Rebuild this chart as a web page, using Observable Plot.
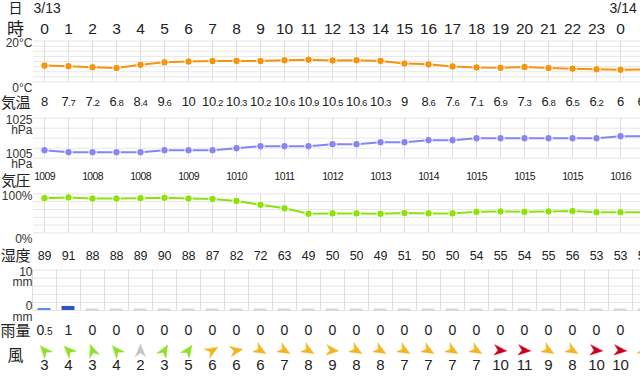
<!DOCTYPE html>
<html><head><meta charset="utf-8">
<script src="https://cdn.jsdelivr.net/npm/d3@7"></script>
<script src="https://cdn.jsdelivr.net/npm/@observablehq/plot@0.6"></script>
<style>
html,body{margin:0;padding:0;background:#fff;}
#chart{position:relative;width:640px;height:376px;overflow:hidden;background:#fff;}
#chart svg{position:absolute;left:0;}
</style></head><body><div id="chart"></div>
<script>
// ---- data ----
const hours = [0,1,2,3,4,5,6,7,8,9,10,11,12,13,14,15,16,17,18,19,20,21,22,23,0,1];
const dateLabels = ["3/13","3/14"];
const dateColumns = [0,24];
const rowLabels = ["日","時","気温","気圧","湿度","雨量","風"];
const temperature = [8,7.7,7.2,6.8,8.4,9.6,10,10.2,10.3,10.2,10.6,10.9,10.5,10.6,10.3,9,8.6,7.6,7.1,6.9,7.3,6.8,6.5,6.2,6,6.1];
const pressure = [1009,1008,1008,1008,1008,1009,1009,1009,1010,1011,1011,1011,1012,1012,1013,1013,1014,1014,1015,1015,1015,1015,1015,1015,1016,1016];
const pressureLabels = [1009,1008,1008,1009,1010,1011,1012,1013,1014,1015,1015,1015,1016];
const pressureLabelColumns = [0,2,4,6,8,10,12,14,16,18,20,22,24];
const humidity = [89,91,88,88,89,90,88,87,82,72,63,49,50,50,49,51,50,50,54,55,54,55,56,53,53,53];
const rainfall = [0.5,1,0,0,0,0,0,0,0,0,0,0,0,0,0,0,0,0,0,0,0,0,0,0,0,0];
const windSpeed = [3,4,3,4,2,3,5,6,6,6,7,8,9,8,8,7,7,7,7,10,11,9,8,10,10,9];
const windDirection = [320,315,340,320,0,30,35,60,80,120,120,120,95,120,120,120,120,120,120,95,95,120,120,95,95,110];
const tempGrid = [0,2.5,5,7.5,10,12.5,15,17.5,20];
const pressureGrid = [1005,1010,1015,1020,1025];
const humidityGrid = [0,20,40,60,80,100];
const rainGrid = [0,2,4,6,8,10];

// ---- style ----
const ORANGE = "#f5950f", PURPLE = "#8585f7", LIME = "#8ce30c";
const GRID = "#e6e6e6", VGRID = "#dedede", TXT = "#222";
const FONT = "'Liberation Sans', Arial, sans-serif";
const JP = "'Noto Sans CJK JP', sans-serif";
const windColor = s => s <= 2 ? "#c4c4c4" : s <= 5 ? "#8ee02a" : s <= 9 ? "#f5b41c" : "#c8001a";
const rainColor = r => r >= 1 ? "#2b57c4" : "#5b8fdc";

const chart = document.getElementById("chart");
const xScale = {domain: [-11/24, 596/24], axis: null};
const ix = (d, i) => i;

function splitDecimals(svg, small) {
  const ns = "http://www.w3.org/2000/svg";
  svg.querySelectorAll("text").forEach(t => {
    const m = /^(\d+)(\.\d+)$/.exec(t.textContent);
    if (m) {
      t.textContent = "";
      const a = document.createElementNS(ns, "tspan"); a.textContent = m[1];
      const b = document.createElementNS(ns, "tspan"); b.textContent = m[2];
      b.setAttribute("font-size", small);
      t.append(a, b);
    }
  });
}

function add(top, height, marks, extra = {}) {
  const svg = Plot.plot({
    width: 640, height,
    marginLeft: 33, marginRight: 0,
    marginTop: extra.mt ?? 0, marginBottom: extra.mb ?? 0,
    x: xScale,
    y: extra.y,
    style: {background: "transparent", overflow: "visible", fontFamily: FONT, color: TXT, letterSpacing: extra.ls ?? "0px"},
    marks
  });
  svg.style.top = top + "px";
  if (extra.decimals) splitDecimals(svg, extra.decimals);
  chart.appendChild(svg);
  return svg;
}

const rowLabel = (t, dy = 0, size = 15) => Plot.text([t], {frameAnchor: "left", dx: -18, dy, textAnchor: "middle", fontSize: size, fontFamily: JP, fill: TXT});
const axisLabel = (v, t, dy) => Plot.text([t], {y: [v], frameAnchor: "left", dx: -1, dy, textAnchor: "end", fontSize: 12, lineHeight: 0.85, fill: "#333"});

// date row
add(1, 15, [
  rowLabel(rowLabels[0], 0, 14),
  Plot.text(dateLabels, {x: (d, i) => dateColumns[i], textAnchor: "start", dx: -11, fontSize: 14})
]);
// hour row
add(18, 22, [
  rowLabel(rowLabels[1], 0, 17),
  Plot.text(hours, {x: ix, text: d => String(d), fontSize: 15.5})
]);
// temperature panel
add(34, 56, [
  Plot.ruleY(tempGrid, {stroke: GRID}),
  Plot.ruleX(hours, {x: ix, stroke: VGRID}),
  Plot.line(temperature, {x: ix, y: d => d, stroke: ORANGE, strokeWidth: 2}),
  Plot.dot(temperature, {x: ix, y: d => d, r: 3.8, fill: ORANGE, stroke: "white", strokeWidth: 1}),
  axisLabel(20, "20°C", 3),
  axisLabel(0, "0°C", 6.5)
], {mt: 6.5, mb: 8.5, y: {domain: [0, 20], axis: null}});
// temperature values
add(91, 21, [
  rowLabel(rowLabels[2], 1),
  Plot.text(temperature, {x: ix, text: d => String(d), fontSize: 13})
], {decimals: "9.5", ls: "-0.4px"});
// pressure panel
add(112, 50, [
  Plot.ruleY(pressureGrid, {stroke: GRID}),
  Plot.ruleX(hours, {x: ix, stroke: VGRID}),
  Plot.line(pressure, {x: ix, y: d => d, stroke: PURPLE, strokeWidth: 2}),
  Plot.dot(pressure, {x: ix, y: d => d, r: 3.8, fill: PURPLE, stroke: "white", strokeWidth: 1}),
  axisLabel(1025, "1025\nhPa", 7.3),
  axisLabel(1005, "1005\nhPa", 1.2)
], {mt: 5.7, mb: 4.3, y: {domain: [1005, 1025], axis: null}});
// pressure labels
add(166, 21, [
  rowLabel(rowLabels[3], 4),
  Plot.text(pressureLabels, {x: (d, i) => pressureLabelColumns[i], text: d => String(d), fontSize: 10.5})
], {ls: "-0.7px"});
// humidity panel
add(188, 50, [
  Plot.ruleY(humidityGrid, {stroke: GRID}),
  Plot.ruleX(hours, {x: ix, stroke: VGRID}),
  Plot.line(humidity, {x: ix, y: d => d, stroke: LIME, strokeWidth: 2}),
  Plot.dot(humidity, {x: ix, y: d => d, r: 3.8, fill: LIME, stroke: "white", strokeWidth: 1}),
  axisLabel(100, "100%", 2.6),
  axisLabel(0, "0%", 7)
], {mt: 5.4, mb: 5.6, y: {domain: [0, 100], axis: null}});
// humidity values
add(245, 20, [
  rowLabel(rowLabels[4], 1),
  Plot.text(humidity, {x: ix, text: d => String(d), fontSize: 12.5})
], {ls: "-0.3px"});
// rain panel
add(264, 50, [
  Plot.ruleY(rainGrid, {stroke: GRID}),
  Plot.ruleX(hours, {x: (d, i) => i - 0.5, stroke: VGRID}),
  Plot.ruleY(rainfall, {filter: d => d === 0, y: 0, x1: (d, i) => i - 0.27, x2: (d, i) => i + 0.27, stroke: "#d4d4d4", strokeWidth: 2, dy: -1}),
  Plot.rectY(rainfall, {filter: d => d > 0, x1: (d, i) => i - 0.27, x2: (d, i) => i + 0.27, y: d => d, fill: d => rainColor(d)}),
  axisLabel(10, "10\nmm", 8),
  axisLabel(0, "0\nmm", 1.7)
], {mt: 5.5, mb: 4, y: {domain: [0, 10], axis: null}});
// rain values
add(320, 21, [
  rowLabel(rowLabels[5], 0),
  Plot.text(rainfall, {x: ix, text: d => String(d), fontSize: 14})
], {decimals: "10"});
// wind arrows (dart shape pointing downwind)
const dart = {
  draw(ctx, l) {
    const w = l * 0.42;
    ctx.moveTo(0, -l);
    ctx.lineTo(w, 0);
    ctx.lineTo(0, -l * 0.3);
    ctx.lineTo(-w, 0);
    ctx.closePath();
  }
};
try {
  add(340, 20, [
    Plot.vector(windSpeed, {x: ix, length: 12, rotate: (d, i) => windDirection[i], anchor: "middle", shape: dart,
      fill: d => windColor(d), stroke: d => windColor(d), strokeWidth: 0.5})
  ]);
} catch (e) {
  add(340, 20, [
    Plot.text(windSpeed, {x: ix, text: () => "➤", rotate: (d, i) => windDirection[i] - 90, fill: d => windColor(d), fontSize: 14, fontFamily: "'DejaVu Sans', sans-serif"})
  ]);
}
// wind speeds
add(355, 20, [
  rowLabel(rowLabels[6], -10, 16),
  Plot.text(windSpeed, {x: ix, text: d => String(d), fontSize: 15})
]);
</script>
</body></html>
